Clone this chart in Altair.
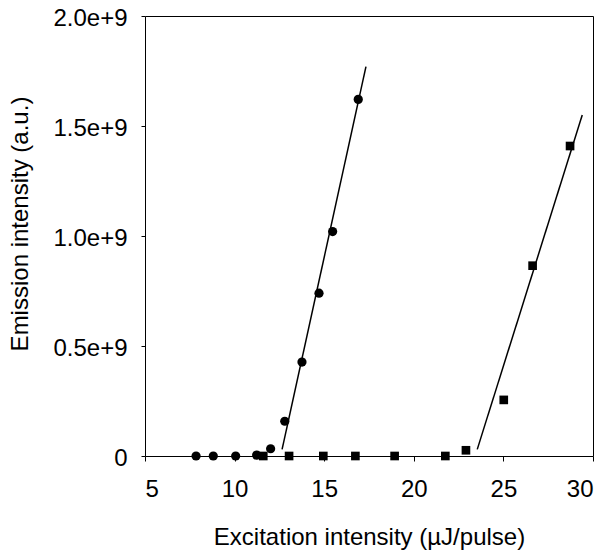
import altair as alt
import pandas as pd

# Circles series
circ_x = [7.85, 8.81, 10.06, 11.23, 12.01, 12.80, 13.76, 14.71, 15.47, 16.90]
circ_y = [0.0, 0.0, 0.0, 0.004e9, 0.033e9, 0.158e9, 0.427e9, 0.740e9, 1.020e9, 1.621e9]
# Squares series
sq_x = [11.60, 13.04, 14.95, 16.74, 18.93, 21.76, 22.91, 25.02, 26.63, 28.72]
sq_y = [0.0, 0.0, 0.0, 0.0, 0.0, 0.0, 0.026e9, 0.255e9, 0.865e9, 1.409e9]
# Linear fit lines (end points)
fit1_x = [12.65, 17.33]
fit1_y = [0.030e9, 1.770e9]
fit2_x = [23.54, 29.40]
fit2_y = [0.030e9, 1.550e9]

x_ticks = [5, 10, 15, 20, 25, 30]
y_ticks = [0, 0.5e9, 1.0e9, 1.5e9, 2.0e9]

circ = pd.DataFrame({"x": circ_x, "y": circ_y})
sq = pd.DataFrame({"x": sq_x, "y": sq_y})
fit1 = pd.DataFrame({"x": fit1_x, "y": fit1_y})
fit2 = pd.DataFrame({"x": fit2_x, "y": fit2_y})

FONT = "Liberation Sans"
FS = 24

xscale = alt.Scale(domain=[5, 30], nice=False, zero=False)
yscale = alt.Scale(domain=[0, 2e9], nice=False)

xs = alt.X("x:Q", scale=xscale,
           axis=alt.Axis(orient="bottom", values=x_ticks, title="Excitation intensity (µJ/pulse)",
                         grid=False, tickSize=5, labelPadding=16, labelFontSize=FS,
                         titleFontSize=FS, titleFontWeight="normal",
                         titleY=88.5, titleBaseline="alphabetic",
                         labelColor="black", titleColor="black",
                         domainColor="black", tickColor="black", labelFont=FONT, titleFont=FONT))
ys = alt.Y("y:Q", scale=yscale,
           axis=alt.Axis(orient="left", values=y_ticks, title="Emission intensity (a.u.)",
                         labelExpr="datum.value == 0 ? '0' : format(datum.value/1e9, '.1f') + 'e+9'",
                         grid=False, tickSize=4, labelPadding=14, labelFontSize=FS, labelOffset=2,
                         titleFontSize=FS, titleFontWeight="normal",
                         titleX=-117.5, titleY=207.5, titleAngle=270, titleAlign="center",
                         titleBaseline="alphabetic",
                         labelColor="black", titleColor="black",
                         domainColor="black", tickColor="black", labelFont=FONT, titleFont=FONT))
xn = alt.X("x:Q", scale=xscale, axis=None)
yn = alt.Y("y:Q", scale=yscale, axis=None)

# frame (top / right axes with only the domain line)
xf = alt.X("x:Q", scale=xscale,
           axis=alt.Axis(orient="top", labels=False, ticks=False, title=None, grid=False,
                         domainColor="black"))
yf = alt.Y("y:Q", scale=yscale,
           axis=alt.Axis(orient="right", labels=False, ticks=False, title=None, grid=False,
                         domainColor="black"))

p1 = alt.Chart(circ).mark_point(shape="circle", filled=True, color="black", size=85, opacity=1).encode(x=xs, y=ys)
frame = alt.Chart(circ).mark_point(opacity=0).encode(x=xf, y=yf)
l1 = alt.Chart(fit1).mark_line(color="black", strokeWidth=1.5).encode(x=xn, y=yn)
l2 = alt.Chart(fit2).mark_line(color="black", strokeWidth=1.5).encode(x=xn, y=yn)
p2 = alt.Chart(sq).mark_point(shape="square", filled=True, color="black", size=75, opacity=1).encode(x=xn, y=yn)

chart = alt.layer(p1, frame, l1, l2, p2).resolve_axis(x="independent", y="independent").properties(
    width=448, height=440,
    background="white",
    autosize=alt.AutoSizeParams(type="none"),
    padding={"left": 137, "top": 8, "right": 6, "bottom": 110},
).configure_view(stroke=None)

chart.save("out.html", embed_options={"renderer": "svg", "actions": False})
